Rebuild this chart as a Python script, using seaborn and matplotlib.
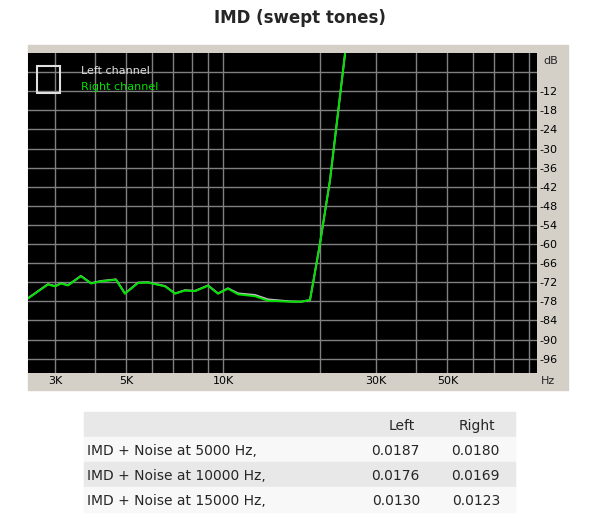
import numpy as np
import pandas as pd
import seaborn as sns
import matplotlib.pyplot as plt
from matplotlib.patches import Rectangle
from matplotlib.ticker import FixedLocator, NullFormatter

# ====================================================
# DATA
# ====================================================

freq_hz = [2470, 2850, 3000, 3130, 3290, 3610, 3880, 4170, 4640, 4950,
           5440, 5840, 6600, 7090, 7610, 8180, 8980, 9650, 10360, 11140,
           12580, 13810, 16170, 17500, 18650, 19060, 20030, 21530, 24000, 25000]
right_db = [-77.1, -72.7, -73.3, -72.4, -73.0, -70.1, -72.4, -71.7, -71.2, -75.6,
            -72.2, -72.1, -73.3, -75.6, -74.6, -74.8, -73.1, -75.6, -74.0, -75.8,
            -76.4, -77.8, -78.1, -78.1, -77.6, -72.4, -60.0, -40.0, 0.0, 10.0]
left_db = [-77.0, -72.6, -73.2, -72.3, -72.9, -70.0, -72.3, -71.6, -71.1, -75.5,
           -72.1, -72.0, -73.2, -75.5, -74.5, -74.7, -73.0, -75.5, -73.9, -75.5,
           -76.0, -77.4, -78.0, -78.1, -77.6, -72.4, -60.0, -40.0, 0.0, 10.0]

db_ticks = [-12, -18, -24, -30, -36, -42, -48, -54, -60, -66, -72, -78, -84, -90, -96]
freq_labels = {3000: "3K", 5000: "5K", 10000: "10K", 30000: "30K", 50000: "50K"}

table_rows = ["IMD + Noise at 5000 Hz,", "IMD + Noise at 10000 Hz,", "IMD + Noise at 15000 Hz,"]
table_left = ["0.0187", "0.0176", "0.0130"]
table_right = ["0.0180", "0.0169", "0.0123"]

df = pd.DataFrame({"freq": freq_hz * 2,
                   "db": left_db + right_db,
                   "channel": ["Left channel"] * len(freq_hz) + ["Right channel"] * len(freq_hz)})

# ====================================================
# FIGURE
# ====================================================

sns.set_style("white")
fig = plt.figure(figsize=(6, 5.28), dpi=100)

W, H = 600, 528

def fx(px):
    return px / W

def fy(py):
    return 1 - py / H

def add_box(x0, y0, x1, y1, color):
    # pixel box -> figure patch drawn behind the axes
    r = Rectangle((fx(x0), fy(y1)), fx(x1) - fx(x0), fy(y0) - fy(y1),
                  transform=fig.transFigure, color=color, zorder=-5)
    fig.add_artist(r)

# gray instrument panel
add_box(28, 45, 568, 390, "#d4d0c8")

fig.text(0.5, fy(18), "IMD (swept tones)", ha="center", va="center",
         fontsize=12, fontweight="bold", family="DejaVu Sans")

ax = fig.add_axes([fx(28), fy(373), fx(537) - fx(28), fy(53) - fy(373)])
ax.set_zorder(5)
ax.set_facecolor("black")

sns.lineplot(data=df, x="freq", y="db", hue="channel",
             palette={"Left channel": "#c0c0c0", "Right channel": "#00e000"},
             linewidth=1.4, ax=ax, legend=False, estimator=None, sort=False)

ax.set_xscale("log")
ax.set_xlim(2470, 95000)
ax.set_ylim(-100.5, 0)

minor = [m * d for d in (1000, 10000) for m in range(2, 10)] + [10000]
ax.xaxis.set_major_locator(FixedLocator(list(freq_labels.keys())))
ax.xaxis.set_major_formatter(plt.FixedFormatter(list(freq_labels.values())))
ax.xaxis.set_minor_locator(FixedLocator([f for f in minor if 2470 < f < 95000]))
ax.xaxis.set_minor_formatter(NullFormatter())
ax.set_yticks(db_ticks + [-6])
ax.set_yticklabels([str(t) for t in db_ticks] + [""])
ax.yaxis.tick_right()
ax.grid(True, which="both", color="#808080", linewidth=1)
ax.tick_params(axis="both", which="both", length=0, labelsize=8, colors="black", pad=2)
for s in ax.spines.values():
    s.set_visible(False)
ax.set_xlabel("")
ax.set_ylabel("")

fig.text(fx(543), fy(61), "dB", fontsize=8, va="center")
fig.text(fx(541), fy(381), "Hz", fontsize=8, va="center")

# legend
ax.text(0.105, 0.945, "Left channel", transform=ax.transAxes, color="#e0e0e0", fontsize=8, va="center")
ax.text(0.105, 0.895, "Right channel", transform=ax.transAxes, color="#00e000", fontsize=8, va="center")
ax.add_patch(Rectangle((0.018, 0.875), 0.045, 0.085, transform=ax.transAxes,
                       fill=False, edgecolor="#e0e0e0", linewidth=1.5, zorder=6))

# ====================================================
# TABLE
# ====================================================

row_h = 25
top = 412
for i in range(4):
    color = "#e8e8e8" if i % 2 == 0 else "#f8f8f8"
    add_box(84, top + i * row_h, 515, top + (i + 1) * row_h, color)

fig.text(fx(415), fy(top + 12.5), "Left", ha="right", va="center_baseline", fontsize=10)
fig.text(fx(495), fy(top + 12.5), "Right", ha="right", va="center_baseline", fontsize=10)
for i, (name, l, r) in enumerate(zip(table_rows, table_left, table_right)):
    yc = fy(top + (i + 1.5) * row_h)
    fig.text(fx(87), yc, name, ha="left", va="center_baseline", fontsize=10)
    fig.text(fx(420), yc, l, ha="right", va="center_baseline", fontsize=10)
    fig.text(fx(500), yc, r, ha="right", va="center_baseline", fontsize=10)

fig.savefig("out.png", dpi=100)
